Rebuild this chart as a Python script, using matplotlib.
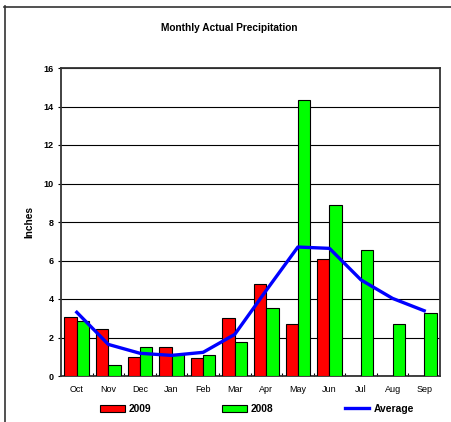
import matplotlib
matplotlib.use("Agg")
import matplotlib.pyplot as plt
from matplotlib.lines import Line2D
import numpy as np

plt.rcParams['font.family'] = ['Liberation Sans', 'DejaVu Sans']

months = ["Oct", "Nov", "Dec", "Jan", "Feb", "Mar", "Apr", "May", "Jun", "Jul", "Aug", "Sep"]
vals_2009 = [3.08, 2.42, 0.99, 1.49, 0.95, 3.0, 4.76, 2.68, 6.06, 0, 0, 0]
vals_2008 = [2.86, 0.57, 1.52, 1.15, 1.07, 1.78, 3.55, 14.32, 8.88, 6.53, 2.68, 3.26]
average = [3.31, 1.64, 1.18, 1.07, 1.23, 2.16, 4.45, 6.7, 6.63, 4.99, 4.03, 3.39]
yticks = [0, 2, 4, 6, 8, 10, 12, 14, 16]

W, H = 451, 422
fig = plt.figure(figsize=(W / 100, H / 100), dpi=100)
ax = fig.add_axes([61 / W, 1 - 376 / H, (440 - 61) / W, (376 - 68) / H])

x = np.arange(len(months))
bw = 0.39
ax.bar(x - bw / 2, vals_2009, bw, color="#FF0000", edgecolor="black", linewidth=0.8, label="2009", zorder=3)
ax.bar(x + bw / 2, vals_2008, bw, color="#00FF00", edgecolor="black", linewidth=0.8, label="2008", zorder=3)
ax.plot(x, average, color="#0000FF", linewidth=2.4, label="Average", zorder=4)

ax.set_xlim(-0.5, 11.5)
ax.set_ylim(0, 16)
ax.set_yticks(yticks)
ax.set_yticklabels([str(v) for v in yticks], fontsize=6.5, fontweight="bold")
ax.tick_params(axis="y", direction="out", length=2, width=0.8, pad=3.5)
ax.set_xticks(x)
ax.set_xticklabels(months, fontsize=6.5)
ax.tick_params(axis="x", which="major", length=0, pad=6.5)
ax.set_xticks(np.arange(0.5, 11.5, 1), minor=True)
ax.tick_params(axis="x", which="minor", direction="in", length=2.5, width=0.8)
ax.yaxis.grid(True, color="black", linewidth=0.8, zorder=0)
ax.set_axisbelow(True)
for s in ax.spines.values():
    s.set_linewidth(1.3)
    s.set_color("#333333")

ax.set_ylabel("Inches", fontsize=7.3, fontweight="bold", labelpad=6)

fig.text(229.5 / W, 1 - 28 / H, "Monthly Actual Precipitation", fontsize=7.3,
         fontweight="bold", ha="center", va="center")

handles, labels = ax.get_legend_handles_labels()
order = [1, 2, 0]
handles = [handles[i] for i in order]
labels = [labels[i] for i in order]
leg = fig.legend(handles, labels, loc="center left", bbox_to_anchor=(100 / W, 1 - 409 / H),
                 ncol=3, frameon=False, prop={"size": 7.4, "weight": "bold"},
                 handlelength=2.4, handletextpad=0.4, columnspacing=6.9,
                 borderpad=0, borderaxespad=0)

fig.add_artist(Line2D([4.5 / W, 4.5 / W], [0, 1 - 6 / H], transform=fig.transFigure,
                      color="#333333", linewidth=1.2))
fig.add_artist(Line2D([4 / W, 1], [1 - 6.5 / H, 1 - 6.5 / H], transform=fig.transFigure,
                      color="#333333", linewidth=1.2))

fig.savefig("out.png", dpi=100)
